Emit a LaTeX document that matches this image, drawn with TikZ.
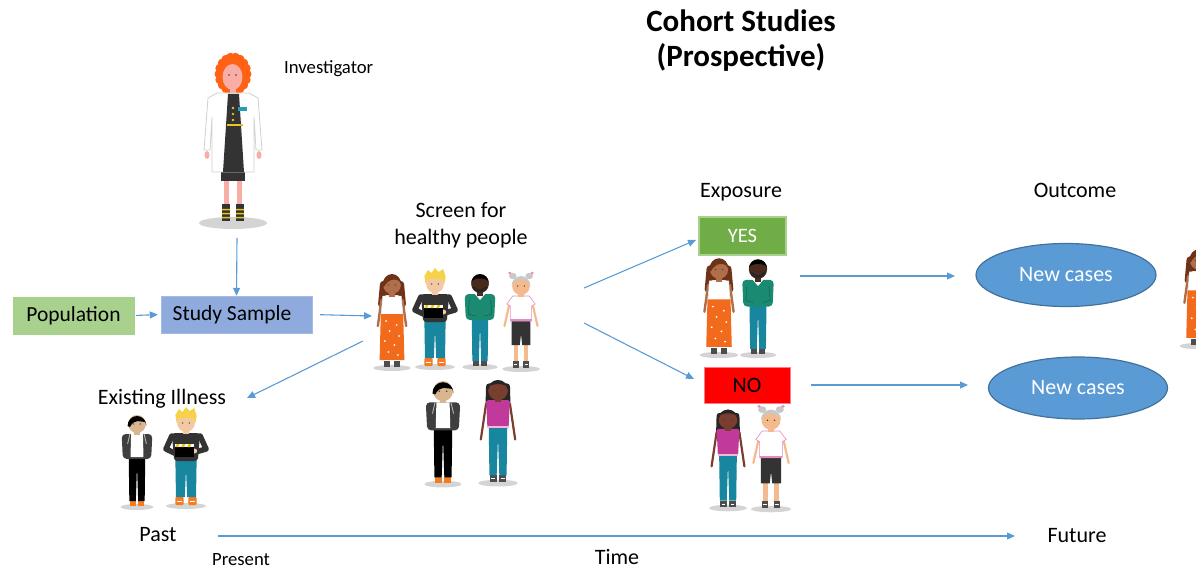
\documentclass[tikz,border=0pt]{standalone}
\usepackage{fontspec}
\setmainfont{Carlito}
\usetikzlibrary{arrows.meta,shapes.geometric}

\definecolor{arrowblue}{HTML}{5B9BD5}
\definecolor{popgreen}{HTML}{A9D18E}
\definecolor{ssblue}{HTML}{8FAADC}
\definecolor{yesgreen}{HTML}{70AD47}
\definecolor{yesborder}{HTML}{A9D18E}
\definecolor{nored}{HTML}{FF0000}
\definecolor{noborder}{HTML}{FF7C80}
\definecolor{ellfill}{HTML}{5B9BD5}
\definecolor{elldraw}{HTML}{41719C}
\definecolor{shadowc}{HTML}{D4D4D4}
\definecolor{shoec}{HTML}{4D4D4D}
\definecolor{skirtor}{HTML}{F26A1B}
\definecolor{hairbr}{HTML}{6E3218}
\definecolor{skinbr}{HTML}{B06F4A}
\definecolor{skinpeach}{HTML}{F3C9A4}
\definecolor{blondhair}{HTML}{F6D14A}
\definecolor{shirtdark}{HTML}{333333}
\definecolor{tealp}{HTML}{17869E}
\definecolor{greensw}{HTML}{1B8A72}
\definecolor{skindark}{HTML}{4A2A1C}
\definecolor{skinold}{HTML}{F5B98E}
\definecolor{greyhair}{HTML}{C8C8C8}
\definecolor{pinkc}{HTML}{E68AC4}
\definecolor{tanskin}{HTML}{D9B690}
\definecolor{jacketc}{HTML}{3F3F3F}
\definecolor{magtop}{HTML}{C2399C}
\definecolor{skinmag}{HTML}{7A3E2E}
\definecolor{invhair}{HTML}{FF6214}
\definecolor{invskin}{HTML}{F8ADA5}
\definecolor{coatline}{HTML}{D0D0D0}
\definecolor{btnyellow}{HTML}{E8C81E}
\definecolor{tagteal}{HTML}{1FA0B8}
\definecolor{shoeorange}{HTML}{F57B20}

\tikzset{
  lbl/.style={inner sep=0pt, font=\fontsize{22}{26}\selectfont},
  smalllbl/.style={inner sep=0pt, font=\fontsize{18.7}{22}\selectfont},
  titlelbl/.style={inner sep=0pt, font=\fontsize{31}{37}\selectfont\bfseries, align=center},
  boxnode/.style={rectangle, inner sep=0pt, font=\fontsize{21.5}{25}\selectfont},
  arr/.style={draw=arrowblue, line width=1.1pt, -{Triangle[length=8pt,width=7pt]}},
  wide/.style={xscale=1.18},
  eyes/.style={fill=black!75},
  % woman, long brown hair, orange skirt
  wskirt/.pic={
    \fill[shadowc] (0,1) ellipse (16 and 3);
    \fill[shoec] (-6.5,-6) rectangle (-1.5,0);
    \fill[shoec] (1.5,-6) rectangle (6.5,0);
    \fill[hairbr, rounded corners=3] (-10,-86) -- (10,-86) -- (12,-60) -- (8,-60) -- (7,-72) -- (-7,-72) -- (-8,-60) -- (-12,-60) -- cycle;
    \draw[skinbr, line width=2.4pt, line cap=round] (-9,-67) -- (-12,-41);
    \draw[skinbr, line width=2.4pt, line cap=round] (9,-67) -- (12,-41);
    \fill[white, draw=black!15, line width=.4pt] (-8,-71) -- (8,-71) -- (9,-52) -- (-9,-52) -- cycle;
    \fill[skinbr] (-2.5,-76) rectangle (2.5,-70);
    \fill[skirtor] (-9.5,-53) -- (9.5,-53) -- (10.5,-7) -- (-10.5,-7) -- cycle;
    \foreach \p in {(-5,-46),(4,-42),(-2,-36),(6,-31),(-6,-26),(2,-22),(-3,-15),(5,-12)}
      \fill[white] \p circle (0.9);
    \fill[skinbr] (0,-82) ellipse (7.5 and 9);
    \fill[hairbr] (-8,-82) arc (180:360:8 and 11) -- (6,-86) .. controls (2,-89) and (-3,-88) .. (-7,-80) -- cycle;
    \fill[eyes] (-2.8,-82) circle (0.7) (2.8,-82) circle (0.7);
  },
  % blond man holding a clapperboard
  blond/.pic={
    \fill[shadowc] (0,1) ellipse (17 and 3);
    \fill[shoeorange, rounded corners=1] (-9,-8) rectangle (-2,0);
    \fill[shoeorange, rounded corners=1] (2,-8) rectangle (9,0);
    \draw[white, line width=.6pt] (-8,-4) -- (-3,-4) (3,-4) -- (8,-4);
    \fill[tealp] (-9,-45) -- (9,-45) -- (8.5,-8) -- (1,-8) -- (0,-36) -- (-1,-8) -- (-8.5,-8) -- cycle;
    \fill[shirtdark, rounded corners=3] (-12,-72) -- (12,-72) -- (10,-44) -- (-10,-44) -- cycle;
    \draw[shirtdark, line width=5.5pt, line cap=round, line join=round] (-12,-69) -- (-17,-56) -- (-8,-51);
    \draw[shirtdark, line width=5.5pt, line cap=round, line join=round] (12,-69) -- (17,-56) -- (8,-53);
    \fill[skinpeach] (-7,-51) circle (2.5) (7,-54) circle (2.5);
    \fill[black] (-9,-60) rectangle (7,-48);
    \fill[white] (-9,-61) rectangle (7,-58);
    \foreach \s in {-8,-3,2} \fill[btnyellow] (\s,-61) -- (\s+2.5,-61) -- (\s+1.5,-58) -- (\s-1,-58) -- cycle;
    \fill[skinpeach] (-2.5,-76) rectangle (2.5,-71);
    \fill[skinpeach] (0,-82) ellipse (7.5 and 9);
    \fill[blondhair] (-8,-82) -- (-9,-90) -- (-6,-96) -- (-3,-93) -- (0,-98) -- (3,-94) -- (7,-97) -- (9,-89) -- (8,-82) -- (6,-87) -- (-6,-87) -- cycle;
    \fill[eyes] (-2.8,-82) circle (0.7) (2.8,-82) circle (0.7);
  },
  % man in green sweater
  greenman/.pic={
    \fill[shadowc] (0,1) ellipse (15 and 3);
    \fill[shoec] (-6,-5) rectangle (-1,0);
    \fill[shoec] (1,-5) rectangle (6,0);
    \fill[tealp] (-7,-48) -- (7,-48) -- (6.5,-5) -- (1,-5) -- (0,-40) -- (-1,-5) -- (-6.5,-5) -- cycle;
    \fill[greensw, rounded corners=4] (-13,-72) -- (13,-72) -- (12,-46) -- (-12,-46) -- cycle;
    \draw[greensw!70!black, line width=.5pt] (-9,-66) -- (-10,-52) -- (-4,-50) (9,-66) -- (10,-52) -- (4,-50);
    \fill[white] (-5,-73) -- (5,-73) -- (0,-66) -- cycle;
    \fill[skindark] (-2.5,-76) rectangle (2.5,-70);
    \fill[skindark] (0,-82) ellipse (7.5 and 9);
    \fill[black] (-7.5,-83) arc (180:360:7.5 and 9) -- (6,-86) .. controls (2,-88) and (-2,-88) .. (-6,-86) -- cycle;
    \fill[black!85] (-6.5,-80) .. controls (-5,-72) and (5,-72) .. (6.5,-80) -- (4,-79) .. controls (3,-76) and (-3,-76) .. (-4,-79) -- cycle;
  },
  % older woman with grey hair
  oldwoman/.pic={
    \fill[shadowc] (0,1) ellipse (16 and 3);
    \fill[shoec] (-7,-7) rectangle (-2,0);
    \fill[shoec] (2,-7) rectangle (7,0);
    \draw[white, line width=.5pt] (-6,-3.5) -- (-3,-3.5) (3,-3.5) -- (6,-3.5);
    \fill[skinold] (-6,-24) rectangle (-2.5,-7);
    \fill[skinold] (2.5,-24) rectangle (6,-7);
    \fill[shirtdark] (-8,-47) -- (8,-47) -- (8,-23) -- (1,-23) -- (0,-34) -- (-1,-23) -- (-8,-23) -- cycle;
    \draw[skinold, line width=2.2pt, line cap=round] (-10,-63) -- (-14,-42);
    \draw[skinold, line width=2.2pt, line cap=round] (10,-63) -- (14,-42);
    \fill[white, draw=pinkc, line width=.6pt] (-7,-72) -- (7,-72) -- (12,-64) -- (9,-62) -- (9,-47) -- (-9,-47) -- (-9,-62) -- (-12,-64) -- cycle;
    \fill[pinkc] (-9,-49) rectangle (9,-47);
    \fill[skinold] (-2.5,-76) rectangle (2.5,-71);
    \fill[skinold] (0,-82) ellipse (7.5 and 9);
    \fill[greyhair] (-8,-82) arc (180:360:8 and 10) -- (6,-86) .. controls (2,-89) and (-2,-89) .. (-6,-86) -- cycle;
    \fill[greyhair] (-7,-92) circle (3.2) (7,-92) circle (3.2);
    \fill[pinkc] (-9.5,-95) circle (1.4) (9.5,-95) circle (1.4);
    \fill[eyes] (-2.8,-82) circle (0.7) (2.8,-82) circle (0.7);
  },
  % man with black hair, open jacket
  jacketman/.pic={
    \fill[shadowc] (0,1) ellipse (14 and 3);
    \fill[shoeorange] (-6,-5) rectangle (-1,0);
    \fill[shoeorange] (1,-5) rectangle (6,0);
    \fill[black] (-7,-48) -- (7,-48) -- (6.5,-5) -- (1,-5) -- (0,-40) -- (-1,-5) -- (-6.5,-5) -- cycle;
    \fill[jacketc, rounded corners=4] (-13,-72) -- (13,-72) -- (12,-47) -- (-12,-47) -- cycle;
    \fill[white] (-5,-72) -- (5,-72) -- (5.5,-49) -- (-5.5,-49) -- cycle;
    \draw[black!25, line width=.8pt] (-6,-72) -- (-8,-62) (6,-72) -- (8,-62);
    \fill[tanskin] (-2.5,-76) rectangle (2.5,-71);
    \fill[tanskin] (0,-82) ellipse (7.5 and 9);
    \fill[black] (-8,-80) arc (180:360:8 and 10) -- (7,-84) .. controls (3,-84) and (-2,-88) .. (-6,-79) -- cycle;
    \fill[eyes] (-2.8,-82) circle (0.7) (2.8,-82) circle (0.7);
  },
  % woman with long black hair, magenta top
  magwoman/.pic={
    \fill[shadowc] (0,1) ellipse (15 and 3);
    \fill[shoec] (-6,-6) rectangle (-1,0);
    \fill[shoec] (1,-6) rectangle (6,0);
    \draw[white, line width=.5pt] (-5,-3) -- (-2,-3) (2,-3) -- (5,-3);
    \fill[tealp] (-7,-48) -- (7,-48) -- (6.5,-6) -- (1,-6) -- (0,-40) -- (-1,-6) -- (-6.5,-6) -- cycle;
    \fill[black!85, rounded corners=3] (-9,-88) -- (9,-88) -- (9.5,-66) -- (-9.5,-66) -- cycle;
    \draw[skinmag, line width=2.2pt, line cap=round] (-9,-70) -- (-13,-38);
    \draw[skinmag, line width=2.2pt, line cap=round] (9,-70) -- (13,-38);
    \fill[magtop, rounded corners=2] (-9,-73) -- (9,-73) -- (8,-48) -- (-8,-48) -- cycle;
    \fill[pinkc!60] (-8,-50) rectangle (8,-48);
    \fill[skinmag] (-2.5,-76) rectangle (2.5,-71);
    \fill[skinmag] (0,-82) ellipse (7.5 and 9);
    \fill[black!85] (-8,-81) arc (180:360:8 and 10) -- (6,-86) .. controls (2,-88) and (-2,-88) .. (-6,-86) -- cycle;
    \fill[eyes] (-2.8,-82) circle (0.7) (2.8,-82) circle (0.7);
  },
  % investigator in lab coat
  investigator/.pic={
    \fill[shadowc] (0,1) ellipse (34 and 6);
    \fill[invhair] (0,-148) ellipse (16 and 19);
    \foreach \a in {0,20,...,340}
      \fill[invhair] ({14*cos(\a)},{-148+17*sin(\a)}) circle (4.5);
    \fill[invskin] (-9,-41) rectangle (-4,-17);
    \fill[invskin] (4,-41) rectangle (9,-17);
    \fill[shirtdark] (-11,-18) rectangle (-3,-1);
    \fill[shirtdark] (3,-18) rectangle (11,-1);
    \foreach \yy in {-13,-9,-5}
      \fill[btnyellow] (-11,\yy) rectangle (-3,\yy+1.5) (3,\yy) rectangle (11,\yy+1.5);
    \fill[shirtdark] (-12,-51) rectangle (12,-41);
    \fill[invskin] (-2.8,-133) rectangle (2.8,-126);
    \fill[white, draw=coatline, line width=.8pt] (-16,-129) -- (16,-129) -- (25,-124) -- (29,-72) -- (23,-72) -- (21,-105) -- (21,-50) -- (-21,-50) -- (-21,-105) -- (-23,-72) -- (-29,-72) -- (-25,-124) -- cycle;
    \fill[invskin] (-26,-67) ellipse (2.5 and 4) (26,-67) ellipse (2.5 and 4);
    \fill[shirtdark] (-5,-128) -- (6,-128) -- (11,-50) -- (-10,-50) -- cycle;
    \fill[btnyellow] (-6,-98) rectangle (10,-96);
    \foreach \yy in {-114,-108,-102} \fill[btnyellow] (0,\yy) circle (1.3);
    \fill[tagteal] (5,-115) rectangle (14,-111);
    \foreach \yy in {-102,-97,-92} \fill[black!45] (8,\yy) circle (0.6);
    \fill[invskin] (-0.5,-145) ellipse (10 and 13);
    \fill[eyes] (-4,-147) circle (0.8) (3,-147) circle (0.8);
  }
}

\begin{document}
\begin{tikzpicture}[x=1pt,y=-1pt]
\useasboundingbox (0,0) rectangle (1196,569);
\begin{scope}
\clip (0,0) rectangle (1196,569);

% title
\node[titlelbl] (title1) at (741,21) {Cohort Studies};
\node[titlelbl] (title2) at (741,57) {(Prospective)};

% investigator
\pic at (233,222) {investigator};
\node[smalllbl, anchor=west] (invlabel) at (284,69) {Investigator};
\coordinate (invbase) at (237,238);

% sampling boxes
\node[boxnode, fill=popgreen, draw=popgreen, minimum width=121pt, minimum height=37pt] (pop) at (73.5,315.5) {Population};
\node[boxnode, fill=ssblue, draw=ssblue!80!white, minimum width=151pt, minimum height=37pt] (ss) at (236.5,314.5) {Study Sample\hspace*{9pt}};

% screening group
\node[lbl, align=center] (screen) at (461,225) {Screen for\\[1pt]healthy people};
\pic[wide] at (392,367) {wskirt};
\pic[wide] at (435,366) {blond};
\pic[wide] at (480,366) {greenman};
\pic[wide] at (521,368) {oldwoman};
\pic[scale=1.12, wide] at (443,483) {jacketman};
\pic[scale=1.12, wide] at (498,482) {magwoman};
\coordinate (crowdin) at (372,316);
\coordinate (crowdout) at (363,341);
\coordinate (crowdyes) at (584,288);
\coordinate (crowdno) at (584,323);

% existing illness
\node[lbl] (ill) at (162,399) {Existing Illness};
\coordinate (illin) at (247,398);
\pic[wide] at (137,506) {jacketman};
\pic[wide] at (186,505) {blond};

% exposure
\node[lbl] (expo) at (741,192) {Exposure};
\node[boxnode, fill=yesgreen, draw=yesborder, line width=2pt, text=white, minimum width=87pt, minimum height=38pt, font=\fontsize{20.5}{24}\selectfont] (yes) at (742.5,236) {YES};
\node[boxnode, fill=nored, draw=noborder, line width=1pt, text=black, minimum width=86pt, minimum height=36pt, font=\fontsize{22}{26}\selectfont] (no) at (747,385) {NO};
\coordinate (yesin) at (696,240);
\coordinate (noin) at (694,379);
\pic[scale=1.03, wide] at (719,354) {wskirt};
\pic[scale=1.03, wide] at (758,354) {greenman};
\pic[scale=1.07, wide] at (728,507) {magwoman};
\pic[scale=1.07, wide] at (771,508) {oldwoman};
\coordinate (yesout) at (800,276);
\coordinate (noout) at (811,385);

% outcome
\node[lbl] (outc) at (1075,190) {Outcome};
\node[ellipse, fill=ellfill, draw=elldraw, line width=1.2pt, inner sep=0pt, minimum width=180pt, minimum height=63pt, text=white, font=\fontsize{22}{26}\selectfont] (nc1) at (1066,275) {New cases};
\node[ellipse, fill=ellfill, draw=elldraw, line width=1.2pt, inner sep=0pt, minimum width=179pt, minimum height=62pt, text=white, font=\fontsize{22}{26}\selectfont] (nc2) at (1078,388) {New cases};
\coordinate (nc1in) at (955,276);
\coordinate (nc2in) at (968,385);
\pic[scale=1.03, wide] at (1199,345) {wskirt};

% time line
\node[lbl] (past) at (158,535) {Past};
\node[smalllbl] (present) at (241,560) {Present};
\node[lbl] (timel) at (617,557) {Time};
\node[lbl] (future) at (1077,536) {Future};
\coordinate (tstart) at (218,536);
\coordinate (tend) at (1015,536);

% connectors
\draw[arr] (invbase) -- (ss.north);
\draw[arr, shorten <=2pt, shorten >=3pt] (pop.east) -- (ss.west);
\draw[arr, shorten <=8pt] (ss.east) -- (crowdin);
\draw[arr] (crowdout) -- (illin);
\draw[arr] (crowdyes) -- (yesin);
\draw[arr] (crowdno) -- (noin);
\draw[arr] (yesout) -- (nc1in);
\draw[arr] (noout) -- (nc2in);
\draw[arr] (tstart) -- (tend);
\end{scope}
\end{tikzpicture}
\end{document}
